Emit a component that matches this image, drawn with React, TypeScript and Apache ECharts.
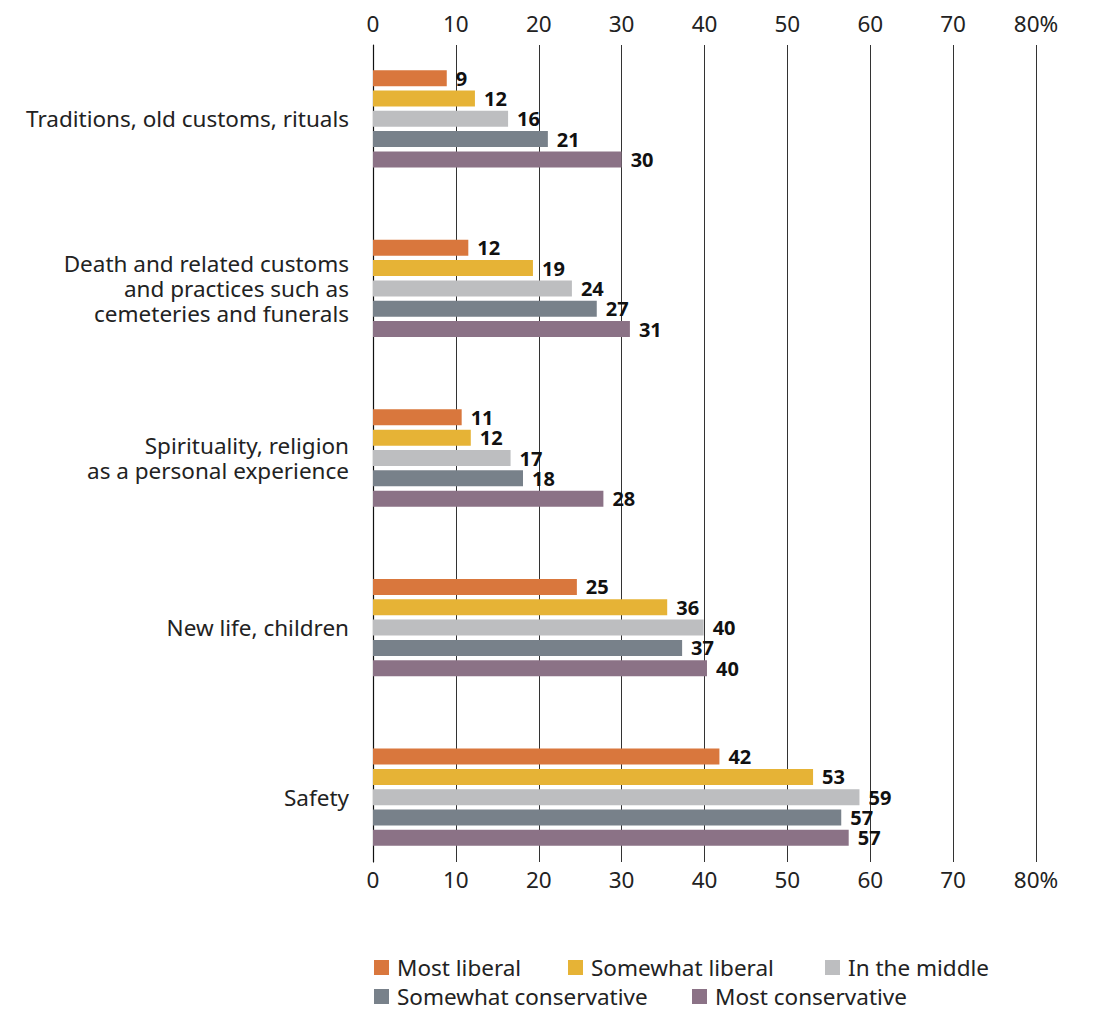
import React, { useEffect, useRef } from "react";
import * as echarts from "echarts";

const categories = [
  "Traditions, old customs, rituals",
  "Death and related customs\nand practices such as\ncemeteries and funerals",
  "Spirituality, religion\nas a personal experience",
  "New life, children",
  "Safety",
];

const seriesNames = [
  "Most liberal",
  "Somewhat liberal",
  "In the middle",
  "Somewhat conservative",
  "Most conservative",
];

const mostLiberal = [8.9, 11.5, 10.7, 24.6, 41.8];
const somewhatLiberal = [12.3, 19.3, 11.8, 35.5, 53.1];
const inTheMiddle = [16.3, 24.0, 16.6, 39.9, 58.7];
const somewhatConservative = [21.1, 27.0, 18.1, 37.3, 56.5];
const mostConservative = [30.0, 31.0, 27.8, 40.3, 57.4];

const colors = ["#D9773D", "#E6B336", "#BDBEC0", "#78818A", "#8B7286"];

const FONT = "Noto Sans";
const FS = 22.5;

export default function App() {
  const ref = useRef<HTMLDivElement>(null);

  useEffect(() => {
    document.body.style.margin = "0";
    if (!ref.current) return;
    const chart = echarts.init(ref.current, undefined, { renderer: "svg" });
    const values = [mostLiberal, somewhatLiberal, inTheMiddle, somewhatConservative, mostConservative];

    const legendPos = [
      { left: 374, top: 956 },
      { left: 568, top: 956 },
      { left: 825, top: 956 },
      { left: 374, top: 985 },
      { left: 692, top: 985 },
    ];

    const tickFmt = (v: number) => (v === 80 ? "80%" : String(v));

    const option: any = {
      animation: false,
      textStyle: { fontFamily: FONT },
      grid: [
        { left: 373, right: 64, top: 45, bottom: 149 },
        { left: 373, right: 64, top: 34, bottom: 129 },
      ],
      xAxis: [
        {
          gridIndex: 0,
          type: "value",
          position: "top",
          min: 0,
          max: 80,
          interval: 10,
          axisLine: { show: false },
          axisTick: { show: false },
          axisLabel: { fontSize: FS, color: "#222", margin: 10, formatter: tickFmt, fontFamily: FONT },
          splitLine: { show: true, lineStyle: { color: "#333", width: 1 } },
        },
        {
          gridIndex: 0,
          type: "value",
          position: "bottom",
          min: 0,
          max: 80,
          interval: 10,
          axisLine: { show: false },
          axisTick: { show: false },
          axisLabel: { fontSize: FS, color: "#222", margin: 6, formatter: tickFmt, fontFamily: FONT },
          splitLine: { show: false },
        },
        {
          gridIndex: 1,
          type: "value",
          min: 0,
          max: 80,
          show: false,
        },
      ],
      yAxis: [
        {
          gridIndex: 0,
          type: "value",
          min: 0,
          max: 1,
          axisLine: { show: true, lineStyle: { color: "#111", width: 1.2 } },
          axisTick: { show: false },
          axisLabel: { show: false },
          splitLine: { show: false },
        },
        {
          gridIndex: 1,
          type: "category",
          inverse: true,
          data: categories,
          axisLine: { show: false },
          axisTick: { show: false },
          splitLine: { show: false },
          axisLabel: {
            fontSize: FS,
            color: "#222",
            margin: 24,
            lineHeight: 25,
            align: "right",
            fontFamily: FONT,
          },
        },
      ],
      legend: seriesNames.map((n, i) => ({
        data: [n],
        left: legendPos[i].left,
        top: legendPos[i].top,
        padding: 0,
        itemWidth: 15,
        itemHeight: 15,
        icon: "rect",
        selectedMode: false,
        textStyle: { fontSize: FS, color: "#222", fontFamily: FONT, padding: [0, 0, 0, 3] },
      })),
      series: seriesNames.map((n, i) => ({
        name: n,
        type: "bar",
        xAxisIndex: 2,
        yAxisIndex: 1,
        data: values[i],
        barWidth: 16,
        barGap: "27%",
        itemStyle: { color: colors[i] },
        label: {
          show: true,
          position: "right",
          distance: 9,
          fontSize: 20,
          fontWeight: "bold",
          color: "#111",
          fontFamily: FONT,
          formatter: (p: any) => String(Math.round(p.value)),
        },
      })),
    };

    chart.setOption(option);
    return () => chart.dispose();
  }, []);

  return <div ref={ref} style={{ width: 1100, height: 1011 }} />;
}
